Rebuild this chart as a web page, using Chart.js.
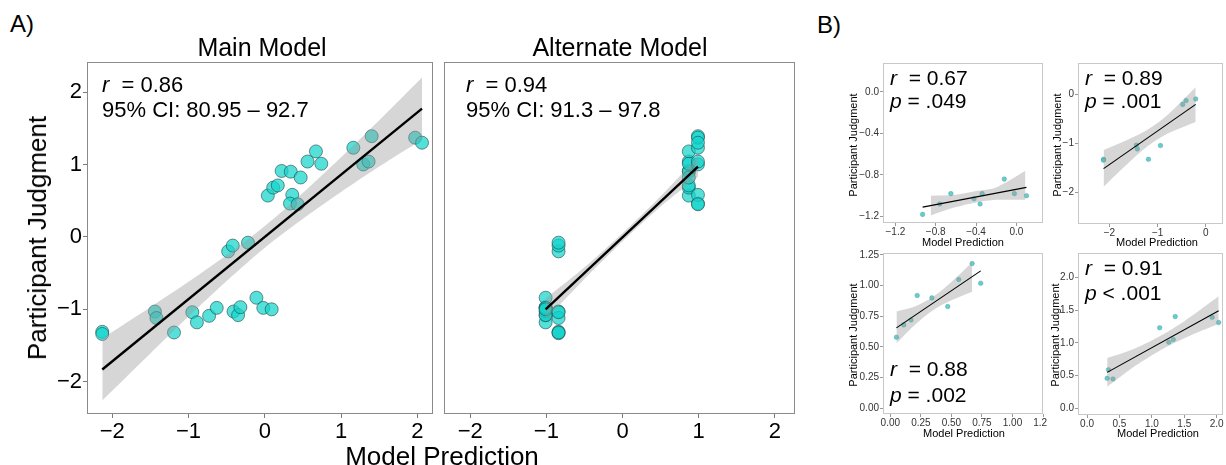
<!DOCTYPE html>
<html><head><meta charset="utf-8">
<script src="https://cdn.jsdelivr.net/npm/chart.js@4.4.1/dist/chart.umd.min.js"></script>
<style>
html,body{margin:0;padding:0;background:#fff;}
body{width:1226px;height:465px;position:relative;overflow:hidden;font-family:'Liberation Sans',Arial,Helvetica,sans-serif;}
canvas{position:absolute;}
.t{position:absolute;white-space:nowrap;color:#000;line-height:1;z-index:5;}
.c{transform:translate(-50%,-50%);}
.l{transform:translateY(-50%);}
.v{transform:translate(-50%,-50%) rotate(-90deg);}
</style></head><body>

<div class="t l" style="left:10px;top:24px;font-size:24px;">A)</div>
<div class="t l" style="left:817px;top:25px;font-size:24px;">B)</div>
<div class="t c" style="left:262px;top:47px;font-size:25px;">Main Model</div>
<div class="t c" style="left:620px;top:47px;font-size:25px;">Alternate Model</div>
<div class="t v" style="left:37px;top:238px;font-size:26px;">Participant Judgment</div>
<div class="t c" style="left:442px;top:456px;font-size:26px;">Model Prediction</div>

<div class="t l" style="left:102px;top:85px;font-size:22px;"><i>r</i>&nbsp; = 0.86</div>
<div class="t l" style="left:102px;top:110px;font-size:22px;">95% CI: 80.95 – 92.7</div>
<div class="t l" style="left:466px;top:85px;font-size:22px;"><i>r</i>&nbsp; = 0.94</div>
<div class="t l" style="left:466px;top:110px;font-size:22px;">95% CI: 91.3 – 97.8</div>

<div class="t l" style="left:890px;top:77px;font-size:21px;"><i>r</i>&nbsp; = 0.67</div>
<div class="t l" style="left:890px;top:100px;font-size:21px;"><i>p</i> = .049</div>
<div class="t l" style="left:1085px;top:77px;font-size:21px;"><i>r</i>&nbsp; = 0.89</div>
<div class="t l" style="left:1085px;top:100px;font-size:21px;"><i>p</i> = .001</div>
<div class="t l" style="left:890px;top:368px;font-size:21px;"><i>r</i>&nbsp; = 0.88</div>
<div class="t l" style="left:890px;top:394px;font-size:21px;"><i>p</i> = .002</div>
<div class="t l" style="left:1085px;top:267px;font-size:21px;"><i>r</i>&nbsp; = 0.91</div>
<div class="t l" style="left:1085px;top:292px;font-size:21px;"><i>p</i> &lt; .001</div>

<div class="t v" style="left:853px;top:145px;font-size:11px;">Participant Judgment</div>
<div class="t v" style="left:1057px;top:145px;font-size:11px;">Participant Judgment</div>
<div class="t v" style="left:853px;top:335px;font-size:11px;">Participant Judgment</div>
<div class="t v" style="left:1055px;top:335px;font-size:11px;">Participant Judgment</div>
<div class="t c" style="left:963px;top:242px;font-size:11px;">Model Prediction</div>
<div class="t c" style="left:1157px;top:242px;font-size:11px;">Model Prediction</div>
<div class="t c" style="left:964px;top:433px;font-size:11px;">Model Prediction</div>
<div class="t c" style="left:1158px;top:433px;font-size:11px;">Model Prediction</div>

<script>
// ---------- Panel A: Main Model ----------
const mainX = [-2.13,-2.13,-1.44,-1.42,-1.19,-0.95,-0.89,-0.73,-0.63,-0.41,-0.35,-0.32,-0.11,-0.02,0.09,-0.48,-0.42,-0.22,0.04,0.11,0.17,0.22,0.34,0.36,0.33,0.43,0.47,0.56,0.67,0.74,1.16,1.29,1.36,1.40,1.97,2.06];
const mainY = [-1.31,-1.34,-1.03,-1.12,-1.32,-1.04,-1.18,-1.09,-0.98,-1.03,-1.08,-0.97,-0.84,-0.98,-1.00,-0.20,-0.12,-0.08,0.57,0.68,0.71,0.91,0.90,0.58,0.46,0.45,0.82,1.04,1.18,1.01,1.23,1.00,1.04,1.39,1.37,1.30];
const mainFitX = [-2.13, 2.06];
const mainFitY = [-1.83, 1.77];
const mainBandX = [-2.13,-1.5,-1,-0.5,0,0.5,1,1.5,2.06];
const mainBandLo = [-2.26,-1.61,-1.10,-0.61,-0.15,0.25,0.62,0.97,1.34];
const mainBandHi = [-1.40,-0.97,-0.62,-0.25,0.15,0.61,1.10,1.61,2.20];

// ---------- Panel A: Alternate Model ----------
const altX = [-1.01,-1.01,-1.01,-1.01,-1.01,-1.01,-1.01,-1.01,-1.01,
              -0.84,-0.84,-0.84,-0.84,-0.84,-0.84,-0.84,-0.84,-0.84,
               0.87, 0.87, 0.87, 0.87, 0.87, 0.87, 0.87, 0.87, 0.87,
               0.99, 0.99, 0.99, 0.99, 0.99, 0.99, 0.99, 0.99, 0.99];
const altY = [-1.18,-1.08,-0.98,-1.03,-1.08,-0.97,-0.84,-0.98,-1.00,
              -1.31,-1.33,-1.03,-1.12,-1.32,-1.04,-0.20,-0.12,-0.08,
               0.57, 0.68, 0.71, 0.91, 0.90, 0.82, 1.04, 1.18, 1.01,
               0.46, 0.58, 0.45, 1.23, 1.00, 1.04, 1.39, 1.37, 1.30];
const altFitX = [-1.01, 0.99];
const altFitY = [-1.00, 0.97];
const altBandX = [-1.01,-0.5,0,0.5,0.99];
const altBandLo = [-1.14,-0.58,-0.06,0.42,0.83];
const altBandHi = [-0.85,-0.42,0.05,0.56,1.11];

const aTicks = [-2,-1,0,1,2];
const aTickLabels = ['\u22122','\u22121','0','1','2'];

// ---------- Panel B ----------
const b1X = [-0.93,-0.76,-0.65,-0.42,-0.36,-0.34,-0.12,-0.02,0.10];
const b1Y = [-1.18,-1.08,-0.98,-1.03,-1.08,-0.98,-0.84,-0.98,-1.00];
const b1FitX = [-0.93, 0.10];
const b1FitY = [-1.11, -0.92];
const b1BandX = [-0.85,-0.6,-0.4,-0.2,0.09];
const b1BandLo = [-1.19,-1.11,-1.065,-1.04,-1.04];
const b1BandHi = [-1.00,-0.99,-0.955,-0.92,-0.76];
const b1XTicks = [-1.2,-0.8,-0.4,0];
const b1XLabels = ['\u22121.2','\u22120.8','\u22120.4','0.0'];
const b1YTicks = [-1.2,-0.8,-0.4,0];
const b1YLabels = ['\u22121.2','\u22120.8','\u22120.4','0.0'];

const b2X = [-2.12,-2.12,-1.44,-1.42,-1.19,-0.94,-0.48,-0.41,-0.21];
const b2Y = [-1.32,-1.34,-1.03,-1.11,-1.32,-1.04,-0.20,-0.12,-0.09];
const b2FitX = [-2.12,-0.21];
const b2FitY = [-1.51,-0.20];
const b2BandX = [-2.12,-1.6,-1.2,-0.8,-0.21];
const b2BandLo = [-1.88,-1.39,-1.05,-0.80,-0.56];
const b2BandHi = [-1.13,-0.91,-0.71,-0.42,0.15];
const b2XTicks = [-2,-1,0];
const b2XLabels = ['\u22122','\u22121','0'];
const b2YTicks = [-2,-1,0];
const b2YLabels = ['\u22122','\u22121','0'];

const b3X = [0.05,0.11,0.17,0.22,0.34,0.47,0.56,0.67,0.74];
const b3Y = [0.58,0.68,0.72,0.92,0.90,0.83,1.05,1.18,1.02];
const b3FitX = [0.05,0.74];
const b3FitY = [0.656,1.12];
const b3BandX = [0.05,0.2,0.35,0.5,0.67];
const b3BandLo = [0.53,0.68,0.80,0.88,0.95];
const b3BandHi = [0.79,0.83,0.91,1.03,1.19];
const b3XTicks = [0,0.25,0.5,0.75,1,1.25];
const b3XLabels = ['0.00','0.25','0.50','0.75','1.00','1.25'];
const b3YTicks = [0,0.25,0.5,0.75,1,1.25];
const b3YLabels = ['0.00','0.25','0.50','0.75','1.00','1.25'];

const b4X = [0.31,0.33,0.40,1.12,1.26,1.33,1.36,1.93,2.03];
const b4Y = [0.46,0.59,0.45,1.23,1.01,1.05,1.40,1.39,1.31];
const b4FitX = [0.31,2.03];
const b4FitY = [0.55,1.49];
const b4BandX = [0.31,0.7,1.1,1.5,2.03];
const b4BandLo = [0.33,0.62,0.87,1.07,1.29];
const b4BandHi = [0.77,0.90,1.09,1.33,1.71];
const b4XTicks = [0,0.5,1,1.5,2];
const b4XLabels = ['0.0','0.5','1.0','1.5','2.0'];
const b4YTicks = [0,0.5,1,1.5,2];
const b4YLabels = ['0.0','0.5','1.0','1.5','2.0'];

const FONT = "'Liberation Sans', Arial, Helvetica, sans-serif";

const framePlugin = {
  id: 'frame',
  afterDatasetsDraw(chart, args, opts) {
    const a = chart.chartArea, ctx = chart.ctx;
    ctx.save();
    ctx.strokeStyle = opts.color || '#888';
    ctx.lineWidth = 1;
    const l = Math.round(a.left) + 0.5, t = Math.round(a.top) + 0.5;
    const r = Math.round(a.right) - 0.5, b = Math.round(a.bottom) - 0.5;
    ctx.strokeRect(l, t, r - l, b - t);
    ctx.restore();
  }
};

function zip(xs, ys) { return xs.map((v, i) => ({ x: v, y: ys[i] })); }

function panel(o) {
  const c = document.createElement('canvas');
  c.width = o.w; c.height = o.h;
  c.style.left = o.left + 'px'; c.style.top = o.top + 'px';
  c.style.width = o.w + 'px'; c.style.height = o.h + 'px';
  document.body.appendChild(c);
  const tickFont = { family: FONT, size: o.fs, lineHeight: o.flh };
  new Chart(c, {
    type: 'scatter',
    data: { datasets: [
      { type: 'scatter', data: zip(o.x, o.y), order: 3,
        pointRadius: o.r, pointHoverRadius: o.r,
        backgroundColor: o.pc, borderColor: o.pbc, borderWidth: o.pbw },
      { type: 'line', data: zip(o.bx, o.lo), order: 2, borderWidth: 0,
        pointRadius: 0, fill: false, tension: 0.3, borderColor: 'rgba(0,0,0,0)' },
      { type: 'line', data: zip(o.bx, o.hi), order: 2, borderWidth: 0,
        pointRadius: 0, fill: '-1', tension: 0.3, borderColor: 'rgba(0,0,0,0)',
        backgroundColor: 'rgba(153,153,153,0.4)' },
      { type: 'line', data: zip(o.fx, o.fy), order: 1, borderColor: '#000',
        borderWidth: o.lw, pointRadius: 0, fill: false }
    ]},
    options: {
      responsive: false, animation: false, devicePixelRatio: 1,
      layout: { padding: { left: o.pl, top: o.pt, right: o.pr, bottom: 0 } },
      plugins: { legend: { display: false }, tooltip: { enabled: false },
                 frame: { color: o.bc } },
      scales: {
        x: {
          type: 'linear', min: o.xmin, max: o.xmax,
          afterBuildTicks: s => { s.ticks = o.xt.map(v => ({ value: v })); },
          afterFit: s => { s.height = o.xh; s.paddingLeft = 0; s.paddingRight = 0; },
          ticks: { callback: (v, i) => o.xl[i], font: tickFont, color: o.tc,
                   padding: o.tp, maxRotation: 0, minRotation: 0, autoSkip: false },
          grid: { drawOnChartArea: false, drawTicks: true, tickLength: o.tl, color: o.gc, lineWidth: 1 },
          border: { display: false }
        },
        y: {
          type: 'linear', min: o.ymin, max: o.ymax, display: o.yshow,
          afterBuildTicks: s => { s.ticks = o.yt.map(v => ({ value: v })); },
          afterFit: s => { s.width = o.yw; s.paddingTop = 0; s.paddingBottom = 0; },
          ticks: { callback: (v, i) => o.yl[i], font: tickFont, color: o.tc,
                   padding: o.tp, autoSkip: false },
          grid: { drawOnChartArea: false, drawTicks: true, tickLength: o.tl, color: o.gc, lineWidth: 1 },
          border: { display: false }
        }
      }
    },
    plugins: [framePlugin]
  });
}

const A = { fs: 22, flh: 1.2, tc: '#000', tp: 1, tl: 4, gc: '#7a7a7a', bc: '#8a8a8a',
            r: 6.5, pc: 'rgba(20,212,204,0.72)', pbc: 'rgba(30,70,70,0.75)', pbw: 0.8, lw: 2.4,
            ymin: -2.445, ymax: 2.41, yt: aTicks, yl: aTickLabels, xt: aTicks, xl: aTickLabels };
const B = { fs: 10, flh: 1.0, tc: '#333', tp: 1, tl: 3, gc: '#999', bc: '#c8c8c8',
            r: 2.3, pc: 'rgba(70,200,200,0.85)', pbc: 'rgba(60,120,120,0.6)', pbw: 0.5, lw: 1.1 };

// Main Model: plot area 87..433 x 62..414
panel(Object.assign({}, A, { left: 45, top: 55, w: 395, h: 395, pl: 0, pt: 7, pr: 7, yw: 42, xh: 36, yshow: true,
  xmin: -2.33, xmax: 2.20, x: mainX, y: mainY, fx: mainFitX, fy: mainFitY,
  bx: mainBandX, lo: mainBandLo, hi: mainBandHi }));
// Alternate Model: plot area 444..795 x 62..414
panel(Object.assign({}, A, { left: 437, top: 55, w: 365, h: 395, pl: 7, pt: 7, pr: 7, yw: 0, xh: 36, yshow: false,
  xmin: -2.34, xmax: 2.26, x: altX, y: altY, fx: altFitX, fy: altFitY,
  bx: altBandX, lo: altBandLo, hi: altBandHi }));

// B1: plot area 883..1043 x 63..223
panel(Object.assign({}, B, { left: 855, top: 56, w: 195, h: 180, pl: 0, pt: 7, pr: 7, yw: 28, xh: 13, yshow: true,
  xmin: -1.323, xmax: 0.264, ymin: -1.263, ymax: 0.278, xt: b1XTicks, xl: b1XLabels, yt: b1YTicks, yl: b1YLabels,
  x: b1X, y: b1Y, fx: b1FitX, fy: b1FitY, bx: b1BandX, lo: b1BandLo, hi: b1BandHi }));
// B2: plot area 1078..1225 x 63..224
panel(Object.assign({}, B, { left: 1058, top: 56, w: 168, h: 180, pl: 0, pt: 7, pr: 1, yw: 20, xh: 12, yshow: true,
  xmin: -2.65, xmax: 0.36, ymin: -2.64, ymax: 0.644, xt: b2XTicks, xl: b2XLabels, yt: b2YTicks, yl: b2YLabels,
  x: b2X, y: b2Y, fx: b2FitX, fy: b2FitY, bx: b2BandX, lo: b2BandLo, hi: b2BandHi }));
// B3: plot area 883..1043 x 253..414 (canvas clipped at 1047)
panel(Object.assign({}, B, { left: 855, top: 246, w: 192, h: 182, pl: 0, pt: 7, pr: 4, yw: 28, xh: 14, yshow: true,
  xmin: -0.06, xmax: 1.25, ymin: -0.046, ymax: 1.266, xt: b3XTicks, xl: b3XLabels, yt: b3YTicks, yl: b3YLabels,
  x: b3X, y: b3Y, fx: b3FitX, fy: b3FitY, bx: b3BandX, lo: b3BandLo, hi: b3BandHi }));
// B4: plot area 1078..1225 x 253..415
panel(Object.assign({}, B, { left: 1056, top: 246, w: 170, h: 182, pl: 0, pt: 7, pr: 1, yw: 22, xh: 13, yshow: true,
  xmin: -0.14, xmax: 2.10, ymin: -0.10, ymax: 2.37, xt: b4XTicks, xl: b4XLabels, yt: b4YTicks, yl: b4YLabels,
  x: b4X, y: b4Y, fx: b4FitX, fy: b4FitY, bx: b4BandX, lo: b4BandLo, hi: b4BandHi }));
</script>
</body></html>
